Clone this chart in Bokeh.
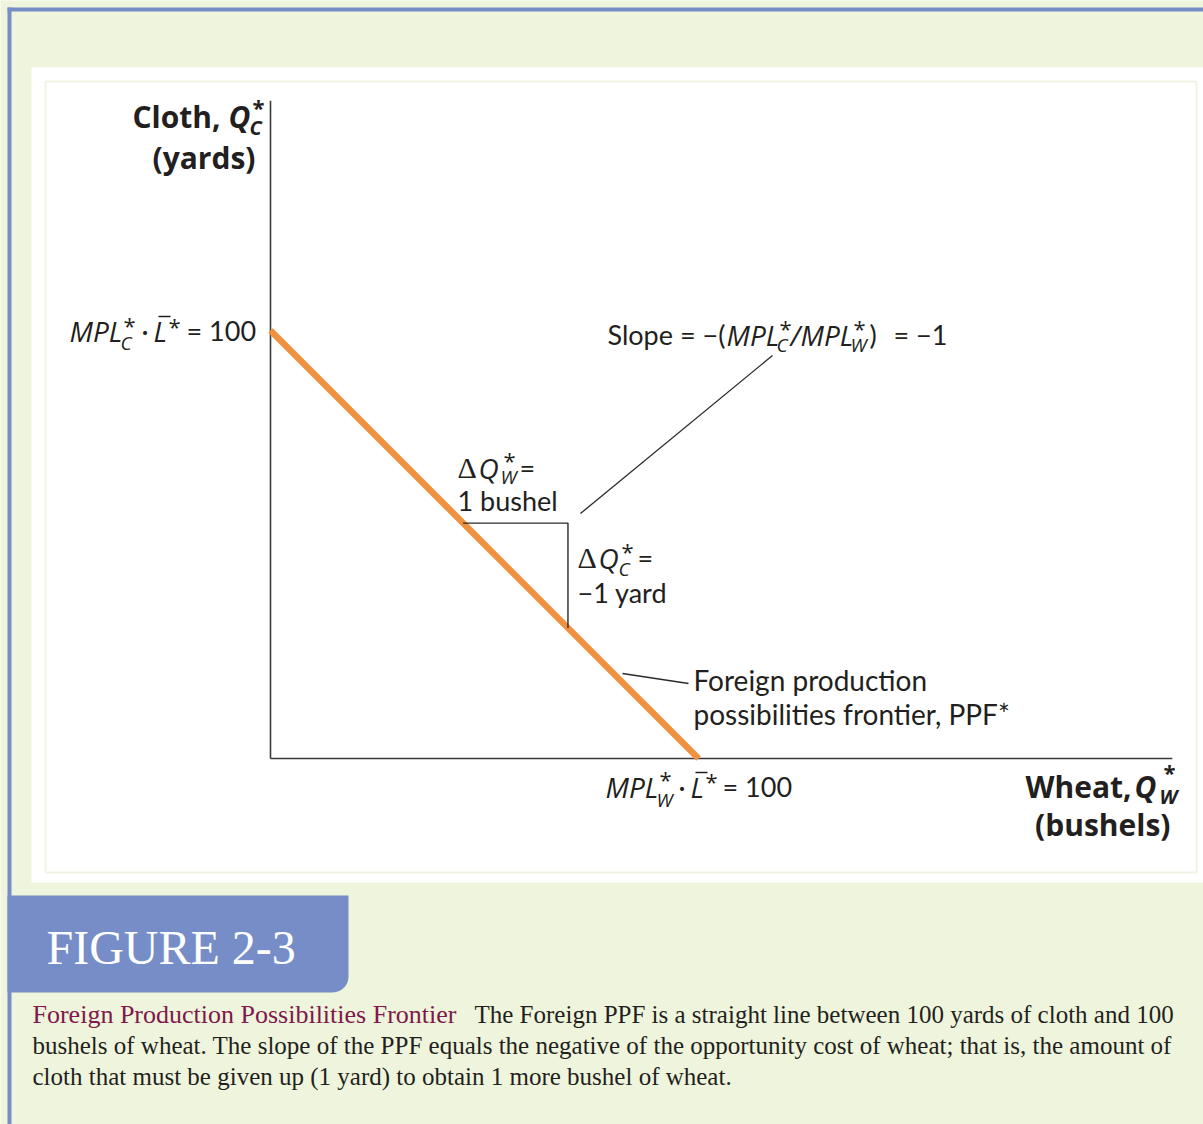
import numpy as np
from bokeh.plotting import figure
from bokeh.models import Range1d
from bokeh.core.properties import value
from bokeh.embed import file_html
from bokeh.resources import INLINE

# ---------------- data ----------------
ppf_wheat = [0, 100]          # bushels of wheat (Q*_W)
ppf_cloth = [100, 0]          # yards of cloth (Q*_C)
tri_wheat = [45, 69.5, 69.5]  # slope triangle on the PPF
tri_cloth = [55, 55, 30.5]
axis_x_max = 210.7
axis_y_max = 153.7

# ---------------- geometry ----------------
W, H = 1203, 1124
SCALE = 4.28               # px per unit
X0PX, Y0PX = 270, 758      # page pixel of the origin


def dx(px):
    return (px - X0PX) / SCALE


def dy(py):
    return (Y0PX - py) / SCALE


p = figure(width=W, height=H, output_backend="svg", toolbar_location=None,
           x_range=Range1d(dx(0), dx(W)), y_range=Range1d(dy(H), dy(0)),
           min_border=0, outline_line_color=None)
p.axis.visible = False
p.grid.visible = False
p.background_fill_color = "#EFF5DC"
p.border_fill_color = "#EFF5DC"

BLUE = "#768DC7"
INK = "#231F20"
REG = "Lato"
IT = "Open Sans"
BOLD = "Open Sans"
SERIF = "Liberation Serif"

# frame decorations
p.quad(left=[dx(31)], right=[dx(1203)], top=[dy(67)], bottom=[dy(882)],
       fill_color="white", line_color=None)
p.quad(left=[dx(45)], right=[dx(1196)], top=[dy(81)], bottom=[dy(872)],
       fill_color=None, line_color="#F1F3E4", line_width=2)
p.quad(left=[dx(7)], right=[dx(1203)], top=[dy(7)], bottom=[dy(11)],
       fill_color=BLUE, line_color=None)
p.quad(left=[dx(7)], right=[dx(11)], top=[dy(7)], bottom=[dy(1124)],
       fill_color=BLUE, line_color=None)

# figure tab with rounded bottom-right corner
r = 16
cx, cy = 348 - r, 992 - r
arc_x = [cx + r * np.cos(a) for a in np.linspace(0, np.pi / 2, 12)]
arc_y = [cy + r * np.sin(a) for a in np.linspace(0, np.pi / 2, 12)]
tab_px = [7, 348] + arc_x + [7]
tab_py = [895, 895] + arc_y + [992]
p.patch([dx(v) for v in tab_px], [dy(v) for v in tab_py], fill_color=BLUE, line_color=None)


def txt(px, pyc, s, size, style="normal", font=REG, color=INK, align="left"):
    # pyc = visual centre of the glyphs
    p.text(x=[dx(px)], y=[dy(pyc)], text=[s], text_font=value(font),
           text_font_size=f"{size}px", text_font_style=style, text_color=color,
           text_align=align, text_baseline="middle")


def star(px, pyc, size=22, style="normal"):
    txt(px, pyc + 1, "*", size, style, font="Open Sans")


# ---------------- axes ----------------
p.line([0, 0], [0, axis_y_max], line_color="#3A3A3A", line_width=1.6)
p.line([0, axis_x_max], [0, 0], line_color="#3A3A3A", line_width=1.6)

# ---------------- PPF and triangle ----------------
p.line(ppf_wheat, ppf_cloth, line_color="#F0913F", line_width=6.5)
p.line(tri_wheat, tri_cloth, line_color="#2A2A2A", line_width=1.4)

# leader lines
p.line([dx(580), dx(772)], [dy(513), dy(355)], line_color="#2A2A2A", line_width=1.3)
p.line([dx(622), dx(688)], [dy(673), dy(683)], line_color="#2A2A2A", line_width=1.3)

# ---------------- labels ----------------
BIG, BSM = 30, 20
# y-axis title
txt(132, 116, "Cloth,", BIG, "bold", font=BOLD)
txt(228, 116, "Q", BIG, "bold italic", font=BOLD)
star(252, 105, 22, "bold")
txt(249, 127, "C", BSM, "bold italic", font=BOLD)
txt(255, 157, "(yards)", BIG, "bold", font=BOLD, align="right")

# x-axis title
txt(1025, 786, "Wheat,", BIG, "bold", font=BOLD)
txt(1134, 786, "Q", BIG, "bold italic", font=BOLD)
star(1163, 770, 22, "bold")
txt(1159, 796, "W", BSM, "bold italic", font=BOLD)
txt(1170, 824, "(bushels)", BIG, "bold", font=BOLD, align="right")

MS, SS, IS = 27, 19, 28
# MPL*_C . L* = 100 (vertical intercept)
txt(69, 330, "MPL", IS, "italic", font=IT)
star(123, 323)
txt(120, 342, "C", SS, "italic", font=IT)
txt(141, 330, "\u00b7", MS)
txt(153, 330, "L", IS, "italic", font=IT)
p.line([dx(158), dx(170)], [dy(316), dy(316)], line_color=INK, line_width=1.5)
star(168, 324)
txt(186, 330, "= 100", MS)

# MPL*_W . L* = 100 (horizontal intercept)
txt(605, 786, "MPL", IS, "italic", font=IT)
star(659, 777)
txt(656, 799, "W", SS, "italic", font=IT)
txt(678, 786, "\u00b7", MS)
txt(690, 786, "L", IS, "italic", font=IT)
p.line([dx(695), dx(707)], [dy(772), dy(772)], line_color=INK, line_width=1.5)
star(705, 779)
txt(722, 786, "= 100", MS)

# slope label
txt(607, 334, "Slope = \u2212(", MS)
txt(726, 334, "MPL", IS, "italic", font=IT)
star(779, 326)
txt(776, 344, "C", SS, "italic", font=IT)
txt(790, 334, "/", IS, "italic", font=IT)
txt(800, 334, "MPL", IS, "italic", font=IT)
star(853, 326)
txt(850, 344, "W", SS, "italic", font=IT)
txt(869, 334, ")", MS)
txt(893, 334, "= \u22121", MS)

# delta Q_W
txt(457, 467, "\u0394", 30, font=SERIF)
txt(478, 467, "Q", IS, "italic", font=IT)
star(503, 458)
txt(500, 476, "W", SS, "italic", font=IT)
txt(519, 467, "=", MS)
txt(457, 500, "1 bushel", MS)

# delta Q_C
txt(577, 557, "\u0394", 30, font=SERIF)
txt(598, 557, "Q", IS, "italic", font=IT)
star(621, 549)
txt(618, 568, "C", SS, "italic", font=IT)
txt(637, 557, "=", MS)
txt(577, 592, "\u22121 yard", MS)

# PPF label
txt(693, 679, "Foreign production", 28)
txt(693, 713, "possibilities frontier, PPF*", 28)

# ---------------- caption ----------------
txt(46, 947, "FIGURE 2-3", 48, font=SERIF, color="white")
CS = 25
txt(32, 1014, "Foreign Production Possibilities Frontier", 26, font=SERIF, color="#80184B")
txt(474, 1014, "The Foreign PPF is a straight line between 100 yards of cloth and 100", CS, font=SERIF)
txt(32, 1045, "bushels of wheat. The slope of the PPF equals the negative of the opportunity cost of wheat; that is, the amount of", CS, font=SERIF)
txt(32, 1076, "cloth that must be given up (1 yard) to obtain 1 more bushel of wheat.", CS, font=SERIF)

open("out.html", "w").write(file_html(p, INLINE))
